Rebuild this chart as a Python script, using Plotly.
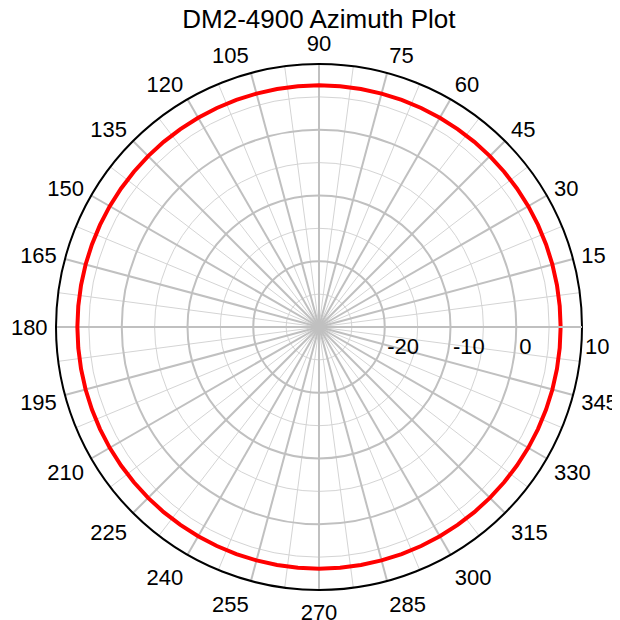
import plotly.graph_objects as go

# Azimuth pattern (degrees, dB)
azimuth_deg = [0, 5, 10, 15, 20, 25, 30, 35, 40, 45, 50, 55, 60, 65, 70, 75, 80, 85,
               90, 95, 100, 105, 110, 115, 120, 125, 130, 135, 140, 145, 150, 155, 160, 165, 170, 175,
               180, 185, 190, 195, 200, 205, 210, 215, 220, 225, 230, 235, 240, 245, 250, 255, 260, 265,
               270, 275, 280, 285, 290, 295, 300, 305, 310, 315, 320, 325, 330, 335, 340, 345, 350, 355, 360]
gain_db = [6.75, 6.75, 6.75, 6.75, 6.75, 6.75, 6.75, 6.75, 6.75, 6.75, 6.75, 6.75, 6.75, 6.75, 6.75, 6.75, 6.75, 6.75,
           6.75, 6.75, 6.75, 6.75, 6.75, 6.75, 6.75, 6.75, 6.75, 6.75, 6.75, 6.75, 6.75, 6.75, 6.75, 6.75, 6.75, 6.75,
           6.75, 6.75, 6.75, 6.75, 6.75, 6.75, 6.75, 6.75, 6.75, 6.75, 6.75, 6.75, 6.75, 6.75, 6.75, 6.75, 6.75, 6.75,
           6.75, 6.75, 6.75, 6.75, 6.75, 6.75, 6.75, 6.75, 6.75, 6.75, 6.75, 6.75, 6.75, 6.75, 6.75, 6.75, 6.75, 6.75, 6.75]

radial_range = [-30, 10]
radial_major = [-20, -10, 0, 10]
radial_major_text = ["-20", "-10", "0", "10"]
radial_minor = [-25, -15, -5, 5]
angle_major = [0, 15, 30, 45, 60, 75, 90, 105, 120, 135, 150, 165, 180,
               195, 210, 225, 240, 255, 270, 285, 300, 315, 330, 345]
angle_major_text = ["", "15", "30", "45", "60", "75", "90", "105", "120", "135", "150", "165", "180",
                    "195", "210", "225", "240", "255", "270", "285", "300", "315", "330", "345"]
angle_minor = [7.5, 22.5, 37.5, 52.5, 67.5, 82.5, 97.5, 112.5, 127.5, 142.5, 157.5, 172.5,
               187.5, 202.5, 217.5, 232.5, 247.5, 262.5, 277.5, 292.5, 307.5, 322.5, 337.5, 352.5]

FONT = "Liberation Sans, Arial, sans-serif"
NB = "\u00a0"
# leading no-break spaces so each radial label starts at its grid circle (as in the reference)
radial_pad = {"-20": 6, "-10": 6, "0": 3, "10": 5}

fig = go.Figure()

# invisible trace to instantiate the minor-grid polar
fig.add_trace(go.Scatterpolar(r=[radial_range[0]], theta=[0], mode="markers",
                              marker=dict(size=1, color="rgba(0,0,0,0)"),
                              subplot="polar", showlegend=False, hoverinfo="skip"))

fig.add_trace(go.Scatterpolar(r=gain_db, theta=azimuth_deg, mode="lines",
                              line=dict(color="#ff0000", width=4),
                              subplot="polar2", showlegend=False))

domain = dict(x=[0, 1], y=[0, 1])

fig.update_layout(
    width=612, height=612,
    margin=dict(l=48, r=38, t=56, b=30),
    paper_bgcolor="white",
    font=dict(family=FONT, size=22, color="black"),
    title=dict(text="DM2-4900 Azimuth Plot", x=0.508, xanchor="center",
               y=0.982, yanchor="middle", font=dict(family=FONT, size=26, color="black")),
    showlegend=False,
    polar=dict(
        domain=domain,
        bgcolor="white",
        radialaxis=dict(range=radial_range, tickmode="array", tickvals=radial_minor,
                        showticklabels=False, ticks="", showline=False,
                        gridcolor="#d4d4d4", gridwidth=1, angle=0),
        angularaxis=dict(rotation=0, direction="counterclockwise", tickmode="array",
                         tickvals=angle_minor, showticklabels=False, ticks="",
                         showline=False, gridcolor="#d4d4d4", gridwidth=1),
    ),
    polar2=dict(
        domain=domain,
        bgcolor="rgba(0,0,0,0)",
        radialaxis=dict(range=radial_range, tickmode="array", tickvals=radial_major,
                        ticktext=[NB * radial_pad[t] + t for t in radial_major_text],
                        tickangle=0,
                        showticklabels=True, ticks="", showline=True,
                        linecolor="#c0c0c0", linewidth=2,
                        gridcolor="#c0c0c0", gridwidth=2, angle=0,
                        tickfont=dict(family=FONT, size=22, color="black")),
        angularaxis=dict(rotation=0, direction="counterclockwise", tickmode="array",
                         tickvals=angle_major, ticktext=angle_major_text,
                         ticks="outside", ticklen=3, tickcolor="rgba(0,0,0,0)",
                         showline=True, linecolor="black", linewidth=2,
                         gridcolor="#c0c0c0", gridwidth=2,
                         tickfont=dict(family=FONT, size=22, color="black")),
    ),
)

fig.write_html("out.html")
